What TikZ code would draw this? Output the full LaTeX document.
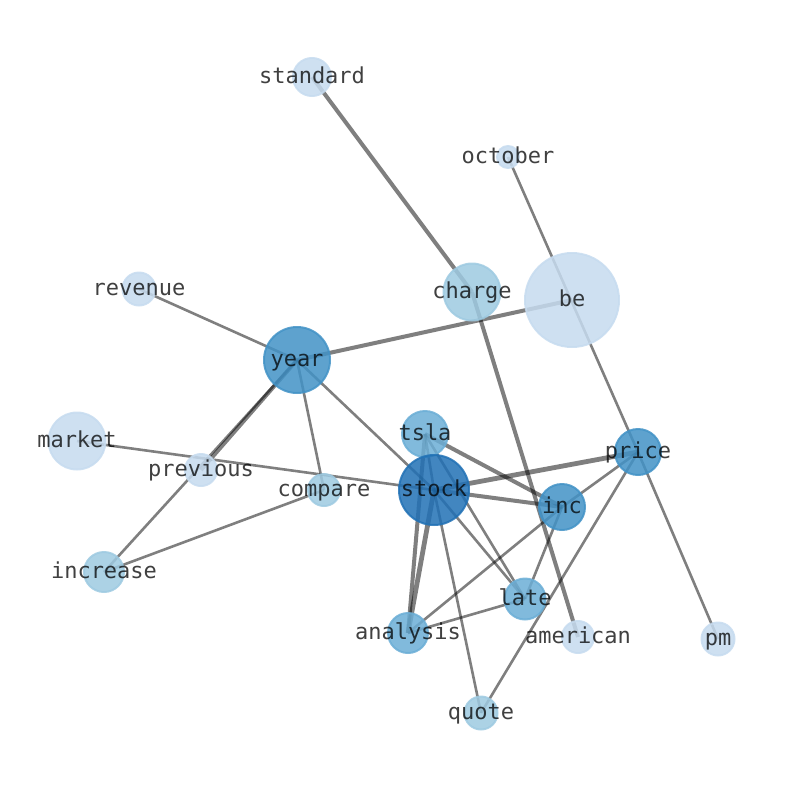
\documentclass[tikz,border=0pt]{standalone}
\usepackage{fontspec}
\newfontfamily\wordfont{DejaVu Sans Mono}
\usepackage{tikz}
\usetikzlibrary{backgrounds}
\definecolor{blueA}{RGB}{198,219,239}
\definecolor{blueB}{RGB}{158,202,225}
\definecolor{blueC}{RGB}{107,174,214}
\definecolor{blueD}{RGB}{66,146,198}
\definecolor{blueE}{RGB}{33,113,181}
\tikzset{
  wnode/.style 2 args={circle, inner sep=0pt, minimum size=#2,
                       draw=#1, fill=#1, line width=2pt,
                       fill opacity=0.85, draw opacity=0.85},
  wlabel/.style={font=\wordfont\fontsize{22}{22}\selectfont,
                 text=black, text opacity=0.75, inner sep=0pt,
                 text height=0.75em, text depth=0.15em, yshift=-3.5pt},
  wedge/.style={line width=#1, black, opacity=0.5},
  wedge/.default=2.6pt,
}

\begin{document}
\begin{tikzpicture}[x=1pt,y=-1pt]
  \useasboundingbox (0,0) rectangle (794,790);
  % Word nodes
  \node[wnode={blueA}{38pt}] (standard) at (312,77) {};
  \node[wnode={blueA}{22pt}] (october) at (508,157) {};
  \node[wnode={blueA}{33pt}] (revenue) at (139,289) {};
  \node[wnode={blueB}{57pt}] (charge) at (472,292) {};
  \node[wnode={blueA}{94pt}] (be) at (572,300) {};
  \node[wnode={blueD}{66pt}] (year) at (297,360) {};
  \node[wnode={blueA}{57pt}] (market) at (77,441) {};
  \node[wnode={blueC}{46pt}] (tsla) at (425,434) {};
  \node[wnode={blueA}{32pt}] (previous) at (201,470) {};
  \node[wnode={blueB}{32pt}] (compare) at (324,490) {};
  \node[wnode={blueE}{70pt}] (stock) at (434,490) {};
  \node[wnode={blueD}{46pt}] (price) at (638,452) {};
  \node[wnode={blueD}{46pt}] (inc) at (562,507) {};
  \node[wnode={blueB}{40pt}] (increase) at (104,572) {};
  \node[wnode={blueC}{41pt}] (late) at (525,599) {};
  \node[wnode={blueC}{40pt}] (analysis) at (408,633) {};
  \node[wnode={blueA}{32pt}] (american) at (578,637) {};
  \node[wnode={blueA}{33pt}] (pm) at (718,639) {};
  \node[wnode={blueB}{33pt}] (quote) at (481,713) {};
  % Edges, under the nodes
  \begin{scope}[on background layer]
    \foreach \a/\b in {october/price, revenue/year, year/increase,
                       year/compare, year/stock, market/stock,
                       increase/compare, tsla/stock, stock/late, tsla/late,
                       stock/quote, price/quote, inc/analysis, inc/late,
                       price/inc, price/pm, analysis/late}
      \draw[wedge] (\a.center) -- (\b.center);
    \foreach \a/\b in {standard/charge, charge/american, year/be,
                       year/previous, tsla/inc, stock/inc, tsla/analysis}
      \draw[wedge=4pt] (\a.center) -- (\b.center);
    \foreach \a/\b in {stock/price, stock/analysis}
      \draw[wedge=4.8pt] (\a.center) -- (\b.center);
  \end{scope}
  % Words
  \foreach \w in {standard, october, revenue, charge, be, year, market,
                  tsla, previous, compare, stock, price, inc, increase,
                  late, analysis, american, pm, quote}
    \node[wlabel] at (\w) {\w};
\end{tikzpicture}
\end{document}
